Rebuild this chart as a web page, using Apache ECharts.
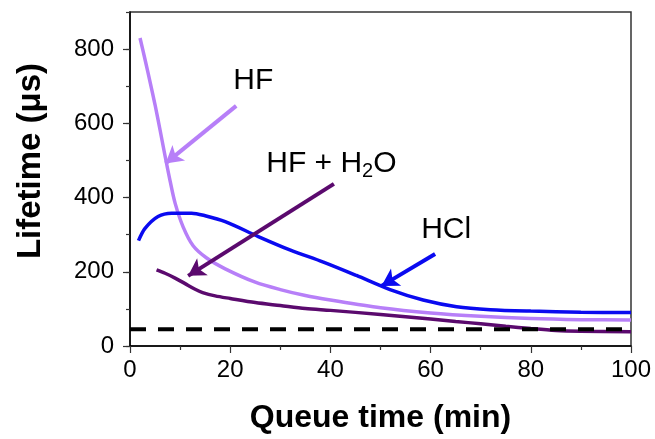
<!DOCTYPE html>
<html><head><meta charset="utf-8">
<script src="https://cdn.jsdelivr.net/npm/echarts@6/dist/echarts.min.js"></script>
<style>html,body{margin:0;padding:0;background:#fff}#c{width:655px;height:439px}</style>
</head><body><div id="c"></div>
<script>
// Queue time (min) and lifetime (μs)
const hfTime = [2, 3, 4, 5, 6, 7, 8, 9, 10.6, 12.6, 15.3, 19, 25, 30, 35, 40, 50, 60, 70, 80, 90, 100];
const hfLife = [830, 772, 712, 650, 582, 512, 445, 385, 321, 270, 237, 208, 172, 152, 136, 124, 103, 89, 80, 74, 71, 70];

const hclTime = [1.7, 3, 5.6, 8.3, 12.3, 15, 19, 25.6, 31.9, 38.6, 45.2, 51.9, 58.5, 65.2, 71.9, 80, 90, 100];
const hclLife = [284, 317, 349, 358, 358, 351, 335, 295, 259, 226, 190, 152, 124, 106, 98, 94, 91, 90];

const hfwTime = [5.3, 7, 9, 11, 13, 14.5, 17, 20, 25, 30, 35, 40, 50, 60, 65, 70, 75, 80, 85, 90, 100];
const hfwLife = [205, 196, 183, 168, 153, 144, 135, 128, 117, 109, 101, 96, 85, 73, 66, 60, 53, 47, 42, 40, 38.5];

const baselineTime = [0, 100];
const baselineLife = [45, 45];

const xTicks = [0, 20, 40, 60, 80, 100];
const yTicks = [0, 200, 400, 600, 800];

// annotation arrows: [startTime, startLife, tipTime, tipLife]
const hfArrow = [21.2, 647, 7.1, 492];
const hfwArrow = [40.7, 437, 11.6, 189];
const hclArrow = [60.9, 248, 50.2, 162];
// annotation label anchors [time, lifetime]
const hfLabelPos = [24.6, 716];
const hfwLabelPos = [40.2, 492];
const hclLabelPos = [63.1, 313];

const pair = (xs, ys) => xs.map((x, i) => [x, ys[i]]);
const FONT = '"Liberation Sans", Arial, sans-serif';
const C_HF = '#b77ff8', C_HCL = '#0a0af0', C_HFW = '#5b0a6e';
const GRID = { left: 130, right: 24, top: 12, bottom: 93 };

function arrow(a, color) {
  return {
    silent: true, symbol: ['none', 'arrow'], symbolSize: [15, 17],
    label: { show: false },
    lineStyle: { color: color, width: 4, type: 'solid' },
    data: [[{ coord: [a[0], a[1]] }, { coord: [a[2], a[3]] }]]
  };
}
function label(pos, text, rich) {
  return {
    silent: true, symbol: 'circle', symbolSize: 0,
    label: { show: true, position: 'inside', formatter: text, color: '#000',
             fontFamily: FONT, fontSize: 30, rich: rich || {} },
    data: [{ coord: pos }]
  };
}

const chart = echarts.init(document.getElementById('c'), null, { renderer: 'canvas' });
chart.setOption({
  animation: false,
  backgroundColor: '#fff',
  grid: [
    Object.assign({ show: true, borderColor: '#333', borderWidth: 1.5, backgroundColor: 'transparent' }, GRID),
    Object.assign({ show: false }, GRID)
  ],
  xAxis: [{
    type: 'value', min: xTicks[0], max: xTicks[xTicks.length - 1], interval: 20,
    name: 'Queue time (min)', nameLocation: 'middle', nameGap: 56,
    nameTextStyle: { fontFamily: FONT, fontWeight: 'bold', fontSize: 32, color: '#000' },
    axisLine: { lineStyle: { color: '#000', width: 1.5 } },
    axisTick: { length: 7, lineStyle: { color: '#333', width: 1.2 } },
    minorTick: { show: true, splitNumber: 2, length: 4, lineStyle: { color: '#333', width: 1.2 } },
    splitLine: { show: false },
    axisLabel: { fontFamily: FONT, fontSize: 24, color: '#000', margin: 12 }
  }, {
    gridIndex: 1, type: 'value', min: xTicks[0], max: xTicks[xTicks.length - 1], show: false
  }],
  yAxis: [{
    type: 'value', min: yTicks[0], max: 900, interval: 200,
    name: 'Lifetime (μs)', nameLocation: 'middle', nameGap: 83, nameRotate: 90,
    nameTextStyle: { fontFamily: FONT, fontWeight: 'bold', fontSize: 33, color: '#000', padding: [0, 0, 0, 36] },
    axisLine: { show: true, lineStyle: { color: '#000', width: 1.5 } },
    axisTick: { show: true, length: 7, lineStyle: { color: '#333', width: 1.2 } },
    splitLine: { show: false },
    axisLabel: { fontFamily: FONT, fontSize: 24, color: '#000', margin: 16, showMaxLabel: false,
                 formatter: v => (yTicks.indexOf(v) >= 0 ? String(v) : '') }
  }, {
    gridIndex: 1, type: 'value', min: yTicks[0], max: 900, interval: 100, position: 'left',
    axisLine: { show: false },
    axisTick: { show: true, length: 4, lineStyle: { color: '#333', width: 1.2 } },
    axisLabel: { show: false },
    splitLine: { show: false }
  }],
  series: [
    { name: 'HF', type: 'line', data: pair(hfTime, hfLife), smooth: 0.3, showSymbol: false,
      lineStyle: { color: C_HF, width: 3.5 }, itemStyle: { color: C_HF }, z: 2,
      markLine: arrow(hfArrow, C_HF), markPoint: label(hfLabelPos, 'HF') },
    { name: 'HF + H2O', type: 'line', data: pair(hfwTime, hfwLife), smooth: 0.3, showSymbol: false,
      lineStyle: { color: C_HFW, width: 3.5 }, itemStyle: { color: C_HFW }, z: 3,
      markLine: arrow(hfwArrow, C_HFW),
      markPoint: label(hfwLabelPos, 'HF + H{sub|2}O', { sub: { fontSize: 20, fontFamily: FONT, color: '#000', verticalAlign: 'bottom', padding: [16, 0, 0, 0] } }) },
    { name: 'HCl', type: 'line', data: pair(hclTime, hclLife), smooth: 0.3, showSymbol: false,
      lineStyle: { color: C_HCL, width: 3.5 }, itemStyle: { color: C_HCL }, z: 4,
      markLine: arrow(hclArrow, C_HCL), markPoint: label(hclLabelPos, 'HCl') },
    { name: 'baseline', type: 'line', xAxisIndex: 1, yAxisIndex: 1, data: pair(baselineTime, baselineLife), showSymbol: false,
      lineStyle: { color: '#000', width: 4, type: [16, 12] }, z: 5 }
  ]
});
</script></body></html>
